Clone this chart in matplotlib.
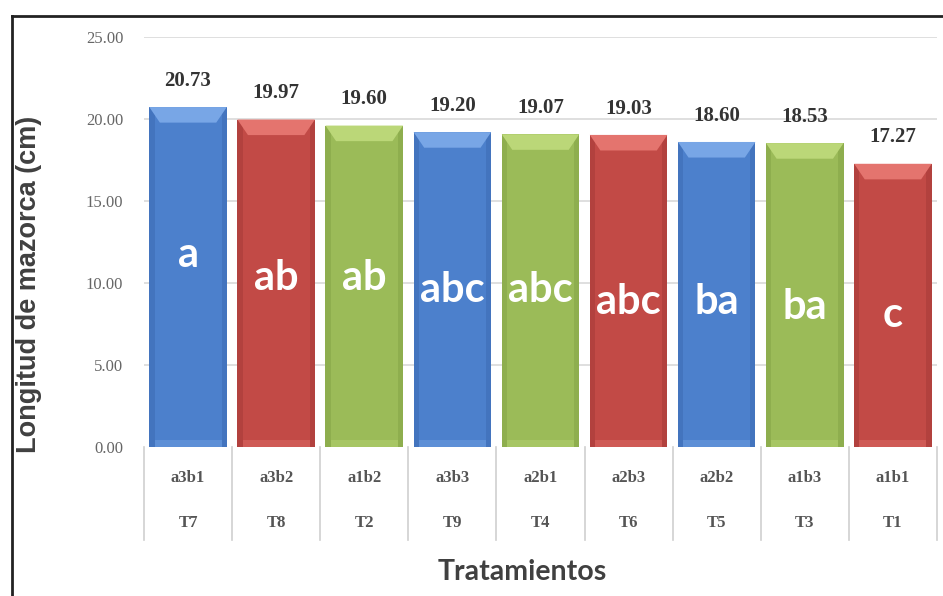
import matplotlib
matplotlib.use("Agg")
import matplotlib.pyplot as plt
from matplotlib.patches import Polygon, Rectangle
from matplotlib.lines import Line2D
import matplotlib.transforms as mtransforms

# ---- data ----
combos = ["a3b1", "a3b2", "a1b2", "a3b3", "a2b1", "a2b3", "a2b2", "a1b3", "a1b1"]
treatments = ["T7", "T8", "T2", "T9", "T4", "T6", "T5", "T3", "T1"]
values = [20.73, 19.97, 19.60, 19.20, 19.07, 19.03, 18.60, 18.53, 17.27]
groups = ["a", "ab", "ab", "abc", "abc", "abc", "ba", "ba", "c"]
yticks = [0, 5, 10, 15, 20, 25]

# ---- styling ----
palette = {
    "blue": ("#4C80CC", "#78A6E6", "#3D6DB5"),
    "red": ("#C24A46", "#E4746E", "#A83C39"),
    "green": ("#9BBB58", "#BBD778", "#86A648"),
}
color_keys = ["blue", "red", "green", "blue", "green", "red", "blue", "green", "red"]
letter_y = [11.7, 10.3, 10.3, 9.6, 9.6, 8.85, 8.85, 8.55, 8.05]

fig = plt.figure(figsize=(9.43, 5.96), dpi=100)
ax = fig.add_axes([0.1527, 0.25, 0.9936 - 0.1527, 0.9379 - 0.25])

n = len(values)
xs = list(range(n))
bw = 0.88
ax.set_xlim(-0.5, n - 0.5)
ax.set_ylim(0, 25)

for y in yticks[1:]:
    ax.axhline(y, color="#d9d9d9", lw=1.2, zorder=0)

bars = ax.bar(xs, values, width=bw, color=[palette[k][0] for k in color_keys],
              edgecolor="none", zorder=2)

# bevel effect
for x, v, k in zip(xs, values, color_keys):
    base, light, dark = palette[k]
    l, r = x - bw / 2, x + bw / 2
    bev_h = 0.95
    bev_w = 0.12
    ax.add_patch(Rectangle((l, 0), bev_w * 0.5, v, color=dark, lw=0, zorder=3, alpha=0.6))
    ax.add_patch(Rectangle((r - bev_w * 0.5, 0), bev_w * 0.5, v, color=dark, lw=0, zorder=3, alpha=0.6))
    ax.add_patch(Polygon([(l, v), (r, v), (r - bev_w, v - bev_h), (l + bev_w, v - bev_h)],
                         closed=True, color=light, lw=0, zorder=4))
    ax.add_patch(Rectangle((l + bev_w * 0.5, 0), bw - bev_w, 0.45, color=light, lw=0, zorder=3, alpha=0.4))

# value labels
for x, v in zip(xs, values):
    ax.text(x, v + 1.0, f"{v:.2f}", ha="center", va="bottom",
            fontsize=15, fontweight="bold", family="Liberation Serif", color="#333333", zorder=5)

# group letters
for x, g, ly in zip(xs, groups, letter_y):
    ax.text(x, ly, g, ha="center", va="center", fontsize=30, fontweight="bold",
            family="Lato", color="#ffffff", zorder=6)

# axes styling
for s in ax.spines.values():
    s.set_visible(False)
ax.set_yticks(yticks)
ax.set_yticklabels([f"{t:.2f}" for t in yticks], family="Liberation Serif",
                   fontsize=12, color="#666666")
ax.tick_params(axis="y", length=0, pad=15)
ax.set_xticks([])

# two-level category table below the axis
trans = mtransforms.blended_transform_factory(ax.transData, fig.transFigure)
for i in range(n + 1):
    xb = i - 0.5
    ax.add_line(Line2D([xb, xb], [0.25, 0.094], transform=trans, color="#cfcfcf",
                       lw=1.2, clip_on=False))
for x, c, t in zip(xs, combos, treatments):
    ax.text(x, 1 - 478 / 596, c, transform=trans, ha="center", va="center",
            fontsize=12, fontweight="bold", family="Liberation Serif", color="#555555")
    ax.text(x, 1 - 523 / 596, t, transform=trans, ha="center", va="center",
            fontsize=12, fontweight="bold", family="Liberation Serif", color="#555555")

fig.text(0.5535, 1 - 572 / 596, "Tratamientos", ha="center", va="center",
         fontsize=20.5, fontweight="bold", family="Lato", color="#404040")
fig.text(0.031, 1 - 284 / 596, "Longitud de mazorca (cm)", ha="center", va="center",
         rotation=90, fontsize=19.5, fontweight="bold", family="Liberation Sans", color="#404040")

# outer border
fig.add_artist(Line2D([12 / 943, 1.0], [1 - 16 / 596, 1 - 16 / 596], transform=fig.transFigure,
                      color="#222222", lw=2))
fig.add_artist(Line2D([12 / 943, 12 / 943], [1 - 16 / 596, 0], transform=fig.transFigure,
                      color="#222222", lw=2))

fig.savefig("out.png", dpi=100)
